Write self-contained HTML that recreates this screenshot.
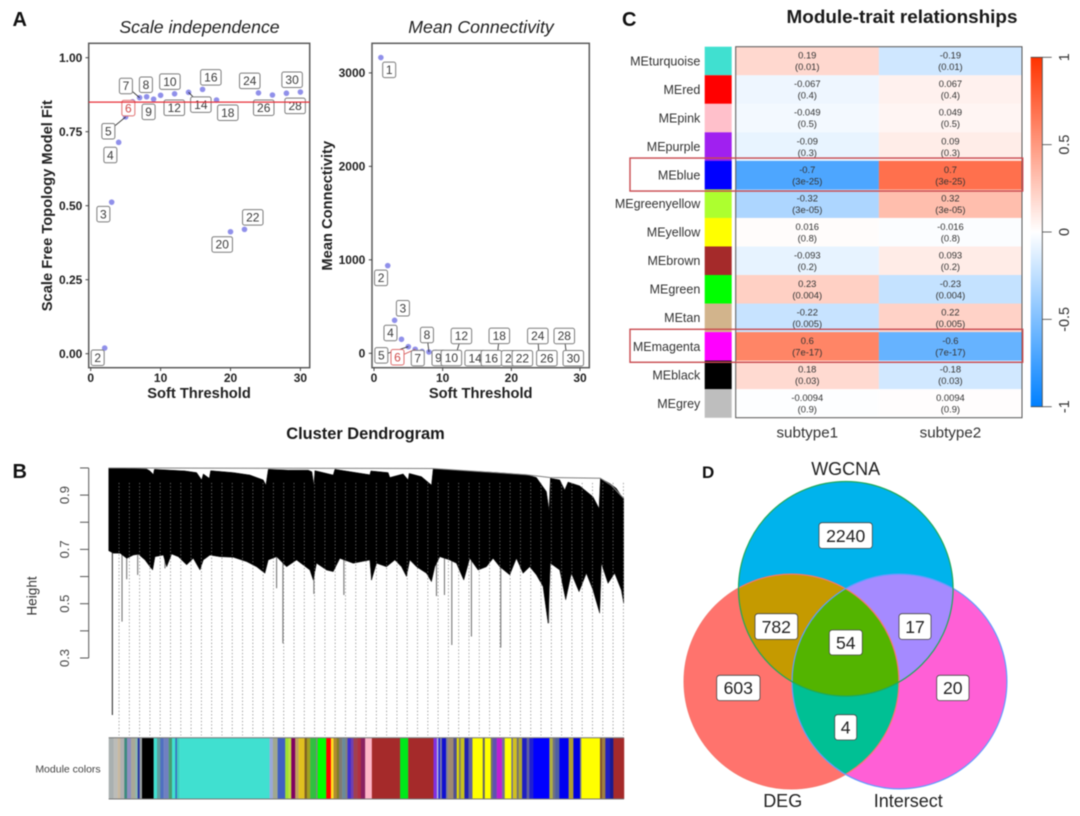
<!DOCTYPE html>
<html lang="en">
<head>
<meta charset="utf-8">
<title>WGCNA figure</title>
<style>
html,body{margin:0;padding:0;background:#fff;width:1080px;height:816px;overflow:hidden}
svg{display:block;filter:blur(0.4px)}
text{font-family:"Liberation Sans",sans-serif}
</style>
</head>
<body>
<svg id="fig" xmlns="http://www.w3.org/2000/svg" width="1080" height="816" viewBox="0 0 1080 816">
<defs>
<linearGradient id="cbGrad" x1="0" y1="1" x2="0" y2="0">
<stop offset="0" stop-color="#0080ff"/><stop offset="0.5" stop-color="#ffffff"/><stop offset="1" stop-color="#ff3300"/>
</linearGradient>
<clipPath id="clipW"><circle cx="845.8" cy="588.8" r="107.3"/></clipPath>
<clipPath id="clipD"><circle cx="791.5" cy="681.5" r="107.4"/></clipPath>
<clipPath id="clipI"><circle cx="899.5" cy="681.5" r="107.4"/></clipPath>
</defs>

<text x="12.5" y="26" font-size="20" font-weight="bold" fill="#111">A</text>
<text x="12.5" y="478" font-size="20" font-weight="bold" fill="#111">B</text>
<text x="622" y="26" font-size="20" font-weight="bold" fill="#111">C</text>
<text x="702" y="478" font-size="17" font-weight="bold" fill="#111">D</text>

<text x="199.5" y="33" font-size="17.7" font-style="italic" text-anchor="middle" fill="#222">Scale independence</text>
<text x="481" y="33" font-size="17.7" font-style="italic" text-anchor="middle" fill="#222">Mean Connectivity</text>
<text x="199" y="398" font-size="14.7" font-weight="bold" text-anchor="middle" fill="#222">Soft Threshold</text>
<text x="480.7" y="398" font-size="14.7" font-weight="bold" text-anchor="middle" fill="#222">Soft Threshold</text>
<text transform="translate(52 205.7) rotate(-90)" font-size="14.7" font-weight="bold" text-anchor="middle" fill="#222">Scale Free Topology Model Fit</text>
<text transform="translate(332 205.7) rotate(-90)" font-size="14.7" font-weight="bold" text-anchor="middle" fill="#222">Mean Connectivity</text>

<text x="902" y="23" font-size="18.9" font-weight="bold" text-anchor="middle" fill="#1a1a1a">Module-trait relationships</text>
<text x="365.5" y="439" font-size="16.4" font-weight="bold" text-anchor="middle" fill="#1a1a1a">Cluster Dendrogram</text>
<text transform="translate(36.5 596) rotate(-90)" font-size="13.6" text-anchor="middle" fill="#333">Height</text>
<text x="68" y="772.5" font-size="10.5" text-anchor="middle" fill="#444">Module colors</text>

<g id="panelA"></g>
<g id="panelA2"></g>
<g id="panelB"></g>
<g id="panelC"></g>

<g id="panelD">
  <circle cx="791.5" cy="681.5" r="107.4" fill="#ff736d"/>
  <circle cx="899.5" cy="681.5" r="107.4" fill="#ff5fd6"/>
  <circle cx="845.8" cy="588.8" r="107.3" fill="#00b3ec"/>
  <g clip-path="url(#clipW)"><circle cx="791.5" cy="681.5" r="107.4" fill="#c59a00"/></g>
  <g clip-path="url(#clipW)"><circle cx="899.5" cy="681.5" r="107.4" fill="#a58aff"/></g>
  <g clip-path="url(#clipD)"><circle cx="899.5" cy="681.5" r="107.4" fill="#00c094"/></g>
  <g clip-path="url(#clipW)"><g clip-path="url(#clipD)"><circle cx="899.5" cy="681.5" r="107.4" fill="#53b400"/></g></g>
  <circle cx="791.5" cy="681.5" r="107.4" fill="none" stroke="#f8766d" stroke-width="1.2"/>
  <circle cx="899.5" cy="681.5" r="107.4" fill="none" stroke="#619cff" stroke-width="1.2"/>
  <circle cx="845.8" cy="588.8" r="107.3" fill="none" stroke="#1fa85a" stroke-width="1.2"/>
  <text x="845.7" y="475" font-size="18" text-anchor="middle" fill="#222">WGCNA</text>
  <text x="782.7" y="807" font-size="18" text-anchor="middle" fill="#222">DEG</text>
  <text x="908.3" y="807" font-size="18" text-anchor="middle" fill="#222">Intersect</text>

  <rect x="819" y="522.7" width="53.3" height="25.7" rx="3" fill="#fff" stroke="#444" stroke-width="0.8"/>
  <text x="845.7" y="541.8" font-size="17.6" text-anchor="middle" fill="#222">2240</text>
  <rect x="755" y="613.7" width="42.7" height="25.7" rx="3" fill="#fff" stroke="#444" stroke-width="0.8"/>
  <text x="776.3" y="632.8" font-size="17.6" text-anchor="middle" fill="#222">782</text>
  <rect x="829.3" y="630" width="33" height="25" rx="3" fill="#fff" stroke="#444" stroke-width="0.8"/>
  <text x="845.8" y="648.8" font-size="17.6" text-anchor="middle" fill="#222">54</text>
  <rect x="899" y="613.7" width="32" height="25.7" rx="3" fill="#fff" stroke="#444" stroke-width="0.8"/>
  <text x="915" y="632.8" font-size="17.6" text-anchor="middle" fill="#222">17</text>
  <rect x="716.7" y="675.3" width="43.3" height="25.3" rx="3" fill="#fff" stroke="#444" stroke-width="0.8"/>
  <text x="738.3" y="694.2" font-size="17.6" text-anchor="middle" fill="#222">603</text>
  <rect x="936.7" y="675.3" width="32.3" height="25.3" rx="3" fill="#fff" stroke="#444" stroke-width="0.8"/>
  <text x="952.8" y="694.2" font-size="17.6" text-anchor="middle" fill="#222">20</text>
  <rect x="834.7" y="714.7" width="22" height="25.3" rx="3" fill="#fff" stroke="#444" stroke-width="0.8"/>
  <text x="845.7" y="733.6" font-size="17.6" text-anchor="middle" fill="#222">4</text>
</g>
</svg>

<script>
// ---------- Panel A data ----------
const softPowers = [2,3,4,5,6,7,8,9,10,12,14,16,18,20,22,24,26,28,30];
const scaleFitValues = [0.019,0.512,0.714,0.80,0.851,0.865,0.868,0.86,0.873,0.878,0.883,0.893,0.857,0.412,0.42,0.881,0.874,0.88,0.884];
const scaleThreshold = 0.85;
const scaleYTicks = [0,0.25,0.5,0.75,1];
const scaleYTickLabels = ['0.00','0.25','0.50','0.75','1.00'];
const softXTicks = [0,10,20,30];

const connPowers = [1,2,3,4,5,6,7,8,9,10,12,14,16,18,20,22,24,26,28,30];
const meanConnValues = [3164,938,353,150,71,43,20,14,9,6,3,2,1.5,1,1,0.6,0.4,0.3,0.2,0.1];
const connYTicks = [0,1000,2000,3000];

// ---------- Panel B data ----------
const dendroBottomPos = [0,14,34,54,74,89,109,124,132,139,164,174,189,209,234,254,274,284,304,334,374,414,444,469,479,504,534,564,604,614,624,654,674,694,734,784,789,804,834,859,879,894,904,924,954,969,979,994,1024,1044,1066,1084,1109,1134,1154,1174,1204,1224,1244,1264,1284,1304,1319,1326,1354,1372,1389,1412,1434,1454,1474,1479,1499,1519,1539,1546];
const dendroBottomHeight = [.695,.686,.686,.667,.679,.682,.661,.636,.624,.673,.679,.636,.683,.673,.643,.667,.624,.661,.679,.673,.671,.655,.636,.612,.661,.673,.636,.661,.624,.587,.649,.624,.618,.667,.649,.661,.587,.649,.636,.661,.636,.600,.661,.636,.612,.581,.636,.673,.661,.649,.587,.667,.624,.636,.667,.636,.606,.667,.612,.636,.606,.563,.428,.649,.624,.514,.612,.544,.612,.550,.465,.649,.575,.612,.550,.501];
const dendroTopPos = [0,74,114,124,134,137,184,229,264,279,284,302,306,374,424,464,472,479,539,599,610,616,619,644,674,679,784,787,839,844,884,899,902,939,969,974,1064,1154,1254,1284,1314,1322,1326,1354,1369,1379,1414,1454,1472,1476,1504,1524,1544,1546];
const dendroTopHeight = [1,.997,.996,.989,.976,.995,.992,.989,.983,.956,.978,.962,.990,.983,.974,.956,.937,.995,.992,.992,.986,.937,.990,.983,.974,.995,.975,.989,.983,.965,.978,.956,.98,.968,.937,.996,.990,.984,.975,.965,.913,.845,.962,.956,.919,.948,.934,.894,.851,.962,.943,.925,.888,.888];
const dendroBracketPos = [0,974,1254,1324,1476,1510,1546];
const dendroBracketHeight = [1,.998,.975,.965,.962,.935,.888];
const spikePos = [11,40,54,87,169,504,523,616,706,789,984,1008,1030,1089,1177,1321];
const spikeHeight = [.09,.434,.59,.606,.63,.557,.354,.536,.532,.587,.528,.532,.348,.379,.338,.428];
const heightTicks = [0.3,0.4,0.5,0.6,0.7,0.8,0.9,1.0];
const heightTickLabels = ['0.3','','0.5','','0.7','','0.9',''];
const moduleSizes = [15,12,8,12,8,12,13,7,6,7,35,10,10,10,15,10,10,5,8,270,10,14,23,10,8,12,10,18,7,10,18,4,26,14,8,10,6,10,10,6,10,8,12,10,13,20,85,24,76,10,5,5,5,13,6,16,10,6,6,11,12,12,31,6,18,6,12,16,8,20,4,12,6,10,14,8,12,48,10,7,13,28,14,20,4,56,6,10,14,10,32];
const moduleColors = ['#a9b0b0','#bcbcb8','#c8b8a0','#b0b0b0','#3d8a7e','#8f8fc0','#a8a898','#8fb9b0','#2030a0','#9aa0a0','#000000','#40e0d0','#5f9f9f','#4f70c0','#7080c0','#4a9a70','#40e0d0','#3a70c0','#40d0c0','#40e0d0','#9aa8d8','#a0a890','#4060c0','#a0e030','#c0e040','#800060','#c0a060','#e0c020','#806020','#a0a020','#30c040','#808080','#00ff00','#ff0000','#ffe020','#b08a30','#808020','#807a70','#6a8a9a','#808080','#4030d0','#7040b0','#a04050','#b03040','#8a2060','#ffb6c8','#a52a2a','#00e81a','#a52a2a','#8030e0','#b0b0e0','#2020e0','#8080a0','#1010d0','#808090','#a08a70','#505090','#e8e000','#808060','#c8c020','#2020b0','#6060a0','#ffff00','#606060','#ffff00','#707070','#6050b0','#c020d0','#707090','#ffff00','#6060a0','#d0c020','#707070','#b0a830','#2020c0','#6060a0','#2020d0','#0000ff','#b0b040','#707080','#5060a0','#0000f0','#b0a030','#0000e0','#808080','#ffff00','#805030','#a08040','#2020c0','#1a1a90','#a52a2a'];

// ---------- Panel C data ----------
const traitModules = ['MEturquoise','MEred','MEpink','MEpurple','MEblue','MEgreenyellow','MEyellow','MEbrown','MEgreen','MEtan','MEmagenta','MEblack','MEgrey'];
const moduleSwatches = ['#40e0d0','#ff0000','#ffc0cb','#a020f0','#0000ff','#adff2f','#ffff00','#a52a2a','#00ff00','#d2b48c','#ff00ff','#000000','#bebebe'];
const traitNames = ['subtype1','subtype2'];
const subtype1Cor = [0.19,-0.067,-0.049,-0.09,-0.7,-0.32,0.016,-0.093,0.23,-0.22,0.6,0.18,-0.0094];
const subtype2Cor = [-0.19,0.067,0.049,0.09,0.7,0.32,-0.016,0.093,-0.23,0.22,-0.6,-0.18,0.0094];
const traitPValues = ['0.01','0.4','0.5','0.3','3e-25','3e-05','0.8','0.2','0.004','0.005','7e-17','0.03','0.9'];
const highlightedModules = ['MEblue','MEmagenta'];
const colorbarTicks = [-1,-0.5,0,0.5,1];

// ---------- helpers ----------
const NS = 'http://www.w3.org/2000/svg';
function mk(tag, parent, attrs, txt) {
  const el = document.createElementNS(NS, tag);
  for (const k in attrs) el.setAttribute(k, attrs[k]);
  if (txt !== undefined) el.textContent = txt;
  parent.appendChild(el);
  return el;
}

// ---------- scatter panels ----------
function labelBox(parent, cx, cy, text, red, prefix) {
  const w = String(text).length > 1 ? 20.5 : 13, h = 15.5;
  const r = mk('rect', parent, {x:cx-w/2, y:cy-h/2, width:w, height:h, rx:2, fill:'#fff', stroke: red ? '#e07070' : '#7c7c7c', 'stroke-width':1});
  
  
  const t = mk('text', parent, {x:cx, y:cy+4.2, 'font-size':12, 'text-anchor':'middle', fill: red ? '#d04a4a' : '#3a3a3a'}, String(text));
  
  
}

function frame(parent, x0, x1, y0, y1, prefix) {
  const f = mk('rect', parent, {x:x0, y:y0, width:x1-x0, height:y1-y0, fill:'#fff', stroke:'#5a5a5a', 'stroke-width':1.5});
  
  
}

// Panel A scales
const ax = v => 90.7 + v * 6.99;
const ay = v => 353.7 - v * 296;
const gA = document.getElementById('panelA');
frame(gA, 88.7, 309.7, 43.3, 367.7, 'scale');
softXTicks.forEach(v => {
  const l = mk('line', gA, {x1:ax(v), x2:ax(v), y1:367.7, y2:371, stroke:'#444', 'stroke-width':1});
  
  
  const t = mk('text', gA, {x:ax(v), y:382, 'font-size':12, 'font-weight':'bold', 'text-anchor':'middle', fill:'#222'}, String(v));
  
  
});
scaleYTicks.forEach((v, i) => {
  const l = mk('line', gA, {x1:85.5, x2:88.7, y1:ay(v), y2:ay(v), stroke:'#444', 'stroke-width':1});
  
  
  const t = mk('text', gA, {x:82.3, y:ay(v)+4.3, 'font-size':12, 'font-weight':'bold', 'text-anchor':'end', fill:'#222'}, scaleYTickLabels[i]);
  
  
});

const aLabelDx = [-7,-8.3,-8.3,-17.3,-4.3,-13.7,-0.7,-5,9.3,-0.3,12.3,8.3,11.3,-8.3,8.3,-8.7,-8.7,8.7,-8.3];
const aLabelDy = [9.7,12,12.7,14.3,6.3,-11.7,-12,12.7,-13.7,14,12.3,-12,12.7,12.7,-12,-12,12.7,12.7,-12.3];
const aConnected = [5,6,7,14];
softPowers.forEach((p, i) => {
  const c = mk('circle', gA, {cx:ax(p), cy:ay(scaleFitValues[i]), r:2.8, fill:'#9090ea'});
  
  
});
softPowers.forEach((p, i) => {
  const px = ax(p), py = ay(scaleFitValues[i]);
  if (aConnected.includes(p)) {
    const s = mk('line', gA, {x1:px, y1:py, x2:px+aLabelDx[i], y2:py+aLabelDy[i], stroke:'#222', 'stroke-width':0.8});
    
    
  }
});
softPowers.forEach((p, i) => {
  labelBox(gA, ax(p)+aLabelDx[i], ay(scaleFitValues[i])+aLabelDy[i], p, p === 6, 'scale');
});
const thr = mk('line', gA, {x1:88.7, x2:309.7, y1:ay(scaleThreshold), y2:ay(scaleThreshold), stroke:'#e8303a', 'stroke-width':1.2});



// Mean connectivity scales
const bx = v => 374 + v * 6.867;
const by = v => 353.3 - v * 0.09347;
const gA2 = document.getElementById('panelA2');
frame(gA2, 372, 589.3, 43.3, 367.7, 'connectivity');
softXTicks.forEach(v => {
  const l = mk('line', gA2, {x1:bx(v), x2:bx(v), y1:367.7, y2:371, stroke:'#444', 'stroke-width':1});
  
  
  const t = mk('text', gA2, {x:bx(v), y:382, 'font-size':12, 'font-weight':'bold', 'text-anchor':'middle', fill:'#222'}, String(v));
  
  
});
connYTicks.forEach(v => {
  const l = mk('line', gA2, {x1:368.8, x2:372, y1:by(v), y2:by(v), stroke:'#444', 'stroke-width':1});
  
  
  const t = mk('text', gA2, {x:365.3, y:by(v)+4.3, 'font-size':12, 'font-weight':'bold', 'text-anchor':'end', fill:'#222'}, String(v));
  
  
});
const bLabelDx = [8.3,-6.7,8.3,-11,-27,-17.7,-4.3,-2,2.7,8.7,5,5,7.5,1.7,0.3,-2.7,-1,-5.7,-2,-6.7];
const bLabelDy = [12.3,12.3,-12,-6.3,8.7,8,6.7,-17,5.5,5.2,-17,5,5,-17.3,5,5,-17.3,5,-17.3,5];
const bConnected = [5,6,8,10,12,14,18,24,26,28];
connPowers.forEach((p, i) => {
  const c = mk('circle', gA2, {cx:bx(p), cy:by(meanConnValues[i]), r:2.8, fill:'#9090ea'});
  
  
});
connPowers.forEach((p, i) => {
  if (bConnected.includes(p)) {
    const px = bx(p), py = by(meanConnValues[i]);
    const s = mk('line', gA2, {x1:px, y1:py, x2:px+bLabelDx[i], y2:py+bLabelDy[i], stroke: p === 6 ? '#d04a4a' : '#222', 'stroke-width':0.8});
    
    
  }
});
connPowers.forEach((p, i) => {
  labelBox(gA2, bx(p)+bLabelDx[i], by(meanConnValues[i])+bLabelDy[i], p, p === 6, 'connectivity');
});

// ---------- dendrogram ----------
const gB = document.getElementById('panelB');
const moduleTotal = moduleSizes.reduce((a, b) => a + b, 0);
const dx = pos => 108.7 + pos * 515.3 / moduleTotal;
const dy = h => 658 - (h - 0.3) * 271.5;
const axisLine = mk('line', gB, {x1:88.7, x2:88.7, y1:dy(1), y2:dy(0.3), stroke:'#555', 'stroke-width':1});


heightTicks.forEach((h, i) => {
  const l = mk('line', gB, {x1:80, x2:88.7, y1:dy(h), y2:dy(h), stroke:'#555', 'stroke-width':1});
  
  
  if (heightTickLabels[i]) {
    const t = mk('text', gB, {transform:'translate(69 ' + dy(h) + ') rotate(-90)', 'font-size':13, 'text-anchor':'middle', fill:'#444'}, heightTickLabels[i]);
    
    
  }
});
spikePos.forEach((p, i) => {
  const s = mk('line', gB, {x1:dx(p), x2:dx(p), y1:dy(0.72), y2:dy(spikeHeight[i]), stroke: i === 0 ? '#333' : '#777', 'stroke-width':1.1});
  
  
});
let massPts = [];
dendroTopPos.forEach((p, i) => { massPts.push(dx(p) + ',' + dy(dendroTopHeight[i])); });
for (let i = dendroBottomPos.length - 1; i >= 0; i--) {
  massPts.push(dx(dendroBottomPos[i]) + ',' + dy(dendroBottomHeight[i]));
}
const mass = mk('polygon', gB, {points:massPts.join(' '), fill:'#000', stroke:'#111', 'stroke-width':0.5});


const bracket = mk('polyline', gB, {points:dendroBracketPos.map((p, i) => dx(p) + ',' + dy(dendroBracketHeight[i])).join(' '), fill:'none', stroke:'#808080', 'stroke-width':1});


for (let pos = 31; pos <= moduleTotal; pos += 30.9) {
  const g = mk('line', gB, {x1:dx(pos), x2:dx(pos), y1:dy(0.945), y2:735.5, stroke:'#808080', 'stroke-width':0.7, 'stroke-dasharray':'1.4 2'});
  
  
}
let cum = 0;
moduleSizes.forEach((w, i) => {
  const r = mk('rect', gB, {x:dx(cum), y:737.7, width:dx(cum+w)-dx(cum)+0.2, height:61.3, fill:moduleColors[i]});
  
  
  cum += w;
});
const barTop = mk('line', gB, {x1:108.7, x2:624, y1:737.7, y2:737.7, stroke:'#777', 'stroke-width':1});


const barBot = mk('line', gB, {x1:108.7, x2:624, y1:799, y2:799, stroke:'#777', 'stroke-width':1});



// ---------- heatmap ----------
const gC = document.getElementById('panelC');
const hTop = 46.7, hBottom = 417.7, hLeft = 735.7, hRight = 1022;
const rowH = (hBottom - hTop) / traitModules.length;
const colW = (hRight - hLeft) / traitNames.length;
function corColor(v) {
  const t = Math.min(1, Math.abs(v));
  const c = v >= 0 ? [255, 255-204*t, 255-255*t] : [255-255*t, 255-127*t, 255];
  return 'rgb(' + c.map(Math.round).join(',') + ')';
}
traitModules.forEach((m, i) => {
  const y = hTop + i * rowH;
  const lab = mk('text', gC, {x:700.3, y:y+rowH/2+4.4, 'font-size':12.5, 'text-anchor':'end', fill:'#333'}, m);
  
  
  const sw = mk('rect', gC, {x:704.7, y:y, width:27, height:rowH+0.1, fill:moduleSwatches[i]});
  
  
  [subtype1Cor, subtype2Cor].forEach((series, j) => {
    const x = hLeft + j * colW;
    const cell = mk('rect', gC, {x:x, y:y, width:colW+0.1, height:rowH+0.1, fill:corColor(series[i])});
    
    
    const t1 = mk('text', gC, {x:x+colW/2, y:y+rowH/2-2.3, 'font-size':9.4, 'text-anchor':'middle', fill:'#333'}, String(series[i]));
    
    
    const t2 = mk('text', gC, {x:x+colW/2, y:y+rowH/2+9.2, 'font-size':9.4, 'text-anchor':'middle', fill:'#333'}, '(' + traitPValues[i] + ')');
    
    
  });
});
const hFrame = mk('rect', gC, {x:hLeft, y:hTop, width:hRight-hLeft, height:hBottom-hTop, fill:'none', stroke:'#555', 'stroke-width':1});


traitNames.forEach((n, j) => {
  const t = mk('text', gC, {x:hLeft+(j+0.5)*colW, y:437.5, 'font-size':15.2, 'text-anchor':'middle', fill:'#333'}, n);
  
  
});
highlightedModules.forEach(m => {
  const i = traitModules.indexOf(m);
  const r = mk('rect', gC, {x:630, y:hTop+i*rowH-2.8, width:392.7, height:33, fill:'none', stroke:'#c94a4f', 'stroke-width':1.4});
  
  
});
const cbY = v => 232 - v * 174.7;
const cb = mk('rect', gC, {x:1030.7, y:cbY(1), width:11.6, height:cbY(-1)-cbY(1), fill:'url(#cbGrad)'});


const cbAxis = mk('polyline', gC, {points:'1030.7,' + cbY(-1) + ' 1042.3,' + cbY(-1) + ' 1042.3,' + cbY(1) + ' 1030.7,' + cbY(1), fill:'none', stroke:'#444', 'stroke-width':0.8});


colorbarTicks.forEach(v => {
  const l = mk('line', gC, {x1:1042.3, x2:1051.7, y1:cbY(v), y2:cbY(v), stroke:'#444', 'stroke-width':0.8});
  
  
  const t = mk('text', gC, {transform:'translate(1069 ' + cbY(v) + ') rotate(-90)', 'font-size':14.4, 'text-anchor':'middle', fill:'#333'}, String(v));
  
  
});
</script>
</body>
</html>
